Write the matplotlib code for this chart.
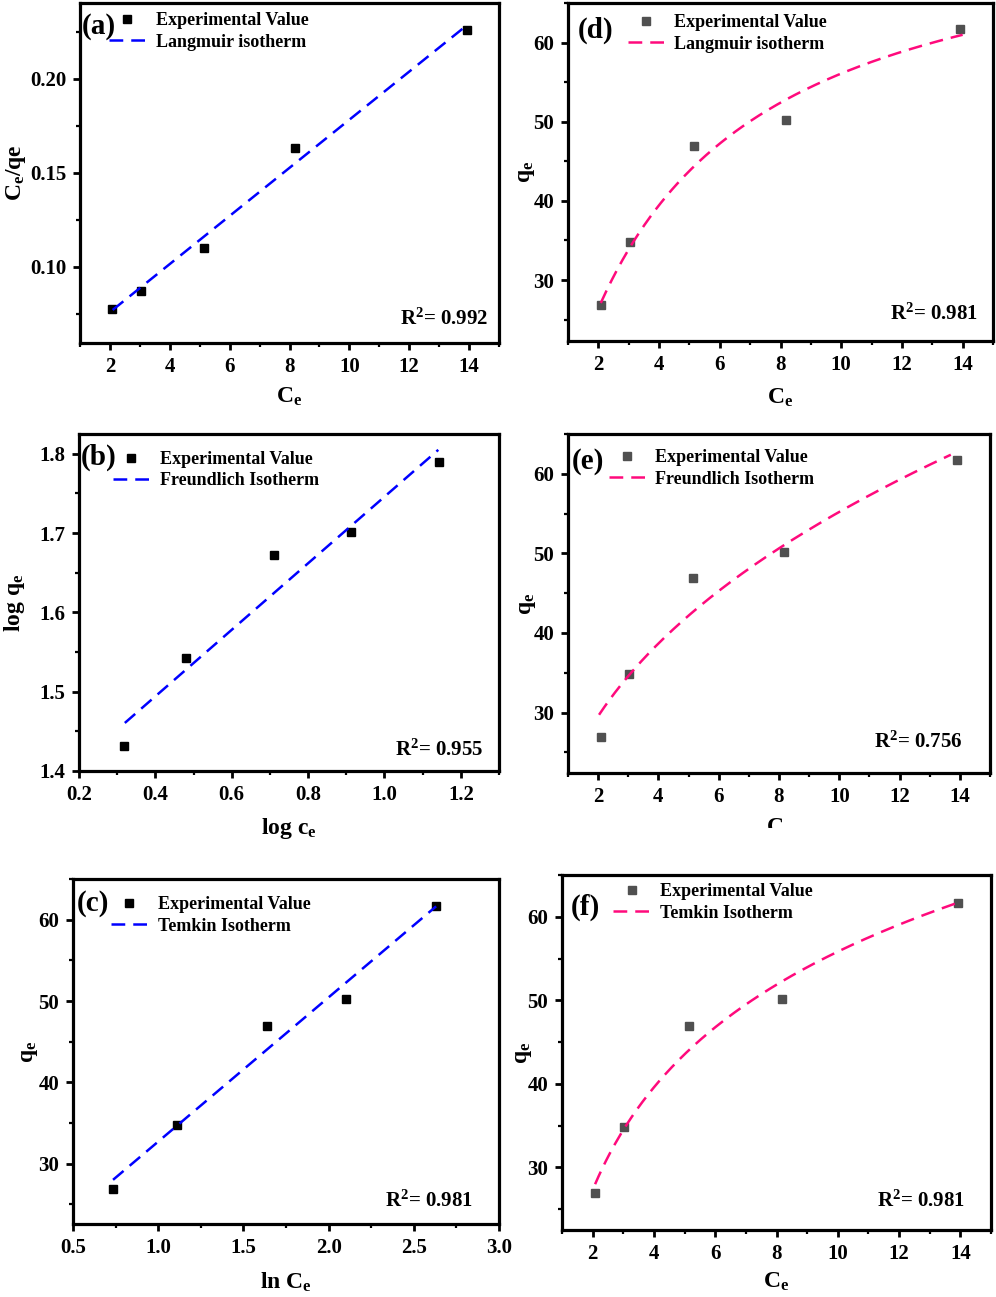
import numpy as np
import matplotlib
matplotlib.use("Agg")
import matplotlib.pyplot as plt
from matplotlib.ticker import MultipleLocator, AutoMinorLocator
from matplotlib.transforms import Bbox, TransformedBbox

plt.rcParams['font.family'] = ['Liberation Serif', 'DejaVu Serif']
plt.rcParams['font.weight'] = 'bold'
plt.rcParams['mathtext.fontset'] = 'custom'
plt.rcParams['mathtext.rm'] = 'Liberation Serif:bold'
plt.rcParams['mathtext.it'] = 'Liberation Serif:bold'
plt.rcParams['mathtext.bf'] = 'Liberation Serif:bold'

# ---- data ----
ce = [2.08, 3.03, 5.14, 8.17, 13.92]
qe = [26.9, 34.8, 46.9, 50.2, 61.7]
ce_over_qe = [0.0776, 0.0870, 0.1100, 0.1630, 0.2260]
log_ce = [0.318, 0.481, 0.711, 0.912, 1.144]
log_qe = [1.431, 1.542, 1.672, 1.701, 1.790]
ln_ce = [0.732, 1.109, 1.637, 2.101, 2.633]

# fitted lines / model parameters
lang_lin_x = [2.09, 13.94]
lang_lin_y = [0.0769, 0.2288]
freu_lin_x = [0.320, 1.141]
freu_lin_y = [1.4606, 1.805]
temk_lin_x = [0.735, 2.631]
temk_lin_y = [28.03, 61.64]
lang_qm, lang_kl = 78.0, 0.256
freu_kf, freu_n_inv = 22.57, 0.3885
temk_a, temk_b = 15.0, 17.73

r2_a, r2_b, r2_c = "0.992", "0.955", "0.981"
r2_d, r2_e, r2_f = "0.981", "0.756", "0.981"

W, H = 996, 1297
fig = plt.figure(figsize=(W / 100, H / 100), dpi=100)

def add_axes(x0, y0, x1, y1):
    return fig.add_axes([x0 / W, 1 - y1 / H, (x1 - x0) / W, (y1 - y0) / H])

BLUE = '#0000FF'
PINK = '#FF0A7C'
GRAY = '#505050'

def style(ax, xlim, ylim, xmaj, ymaj):
    ax.set_xlim(*xlim)
    ax.set_ylim(*ylim)
    ax.xaxis.set_major_locator(MultipleLocator(xmaj))
    ax.yaxis.set_major_locator(MultipleLocator(ymaj))
    ax.xaxis.set_minor_locator(AutoMinorLocator(2))
    ax.yaxis.set_minor_locator(AutoMinorLocator(2))
    for s in ax.spines.values():
        s.set_linewidth(2.3)
    ax.tick_params(which='major', direction='out', length=5, width=2.0,
                   labelsize=15, pad=5, top=False, right=False)
    ax.tick_params(which='minor', direction='out', length=3, width=1.6,
                   top=False, right=False)
    for lab in ax.get_xticklabels() + ax.get_yticklabels():
        lab.set_fontweight('bold')

def finish(ax, label, r2, r2x, r2y, legx, legy, xlabel, ylabel, xlc, ylc, plx, ply):
    ax.legend(loc='upper left', bbox_to_anchor=(legx, legy), frameon=False,
              handlelength=2.0, handletextpad=0.6,
              borderpad=0, borderaxespad=0, labelspacing=0.25,
              prop={'weight': 'bold', 'size': 13})
    ax.text(plx, ply, label, transform=ax.transAxes, fontsize=21,
            fontweight='bold', ha='left', va='center')
    ax.text(r2x, r2y, r'R$^{2}$= ' + r2, transform=ax.transAxes,
            fontsize=15, fontweight='bold', ha='right', va='baseline')
    ax.set_xlabel(xlabel, fontsize=17, fontweight='bold')
    ax.set_ylabel(ylabel, fontsize=17, fontweight='bold')
    ax.xaxis.set_label_coords(0.5, xlc)
    ax.xaxis.label.set_va('top')
    ax.yaxis.set_label_coords(ylc, 0.5)

DASH = (5.5, 3.2)
MS = 5.5

# (a) Langmuir linear
ax = add_axes(80, 3, 499, 343)
style(ax, (1, 15), (0.0593, 0.2405), 2, 0.05)
ax.plot(ce, ce_over_qe, 's', color='black', ms=MS, label='Experimental Value')
ax.plot(lang_lin_x, lang_lin_y, '--', color=BLUE, lw=1.8, dashes=DASH,
        label='Langmuir isotherm')
finish(ax, '(a)', r2_a, 0.973, 0.053, 0.07, 0.973,
       r'C$_\mathregular{e}$', r'C$_\mathregular{e}$/qe', -0.125, -0.125, 0.005, 0.93)

# (b) Freundlich linear
ax = add_axes(79, 434, 499, 771)
style(ax, (0.2, 1.3), (1.4, 1.825), 0.2, 0.1)
ax.plot(log_ce, log_qe, 's', color='black', ms=MS, label='Experimental Value')
ax.plot(freu_lin_x, freu_lin_y, '--', color=BLUE, lw=1.8, dashes=DASH,
        label='Freundlich Isotherm')
finish(ax, '(b)', r2_b, 0.963, 0.045, 0.08, 0.95,
       r'log c$_\mathregular{e}$', r'log q$_\mathregular{e}$', -0.135, -0.123, 0.005, 0.93)

# (c) Temkin linear
ax = add_axes(73, 879, 499, 1224)
style(ax, (0.5, 3.0), (22.6, 65), 0.5, 10)
ax.plot(ln_ce, qe, 's', color='black', ms=MS, label='Experimental Value')
ax.plot(temk_lin_x, temk_lin_y, '--', color=BLUE, lw=1.8, dashes=DASH,
        label='Temkin Isotherm')
finish(ax, '(c)', r2_c, 0.938, 0.05, 0.09, 0.95,
       r'ln C$_\mathregular{e}$', r'q$_\mathregular{e}$', -0.135, -0.078, 0.008, 0.93)

# (d) Langmuir nonlinear
xs = np.linspace(ce[0], 14.0, 200)
ax = add_axes(568, 3, 993, 341)
style(ax, (1, 15), (22.3, 65), 2, 10)
ax.plot(ce, qe, 's', color=GRAY, ms=MS, label='Experimental Value')
ax.plot(xs, lang_qm * lang_kl * xs / (1 + lang_kl * xs), '--', color=PINK, lw=1.8,
        dashes=DASH, label='Langmuir isotherm')
finish(ax, '(d)', r2_d, 0.965, 0.062, 0.14, 0.967,
       r'C$_\mathregular{e}$', r'q$_\mathregular{e}$', -0.135, -0.073, 0.022, 0.92)

# (e) Freundlich nonlinear
xs = np.linspace(2.03, 13.7, 200)
ax = add_axes(568, 434, 990, 773)
style(ax, (1, 15), (22.4, 65), 2, 10)
ax.plot(ce, qe, 's', color=GRAY, ms=MS, label='Experimental Value')
ax.plot(xs, freu_kf * xs ** freu_n_inv, '--', color=PINK, lw=1.8, dashes=DASH,
        label='Freundlich Isotherm')
finish(ax, '(e)', r2_e, 0.935, 0.075, 0.096, 0.955,
       r'C$_\mathregular{e}$', r'q$_\mathregular{e}$', -0.13, -0.07, 0.01, 0.92)
lab = ax.xaxis.label
lab.set_clip_box(TransformedBbox(Bbox([[0, 1 - 828 / H], [1, 1]]), fig.transFigure))
lab.set_clip_on(True)

# (f) Temkin nonlinear
xs = np.linspace(ce[0], 13.92, 200)
ax = add_axes(562, 875, 991, 1230)
style(ax, (1, 15), (22.5, 65), 2, 10)
ax.plot(ce, qe, 's', color=GRAY, ms=MS, label='Experimental Value')
ax.plot(xs, temk_a + temk_b * np.log(xs), '--', color=PINK, lw=1.8, dashes=DASH,
        label='Temkin Isotherm')
finish(ax, '(f)', r2_f, 0.94, 0.065, 0.12, 0.977,
       r'C$_\mathregular{e}$', r'q$_\mathregular{e}$', -0.115, -0.066, 0.02, 0.91)

fig.savefig('out.png', dpi=100)
